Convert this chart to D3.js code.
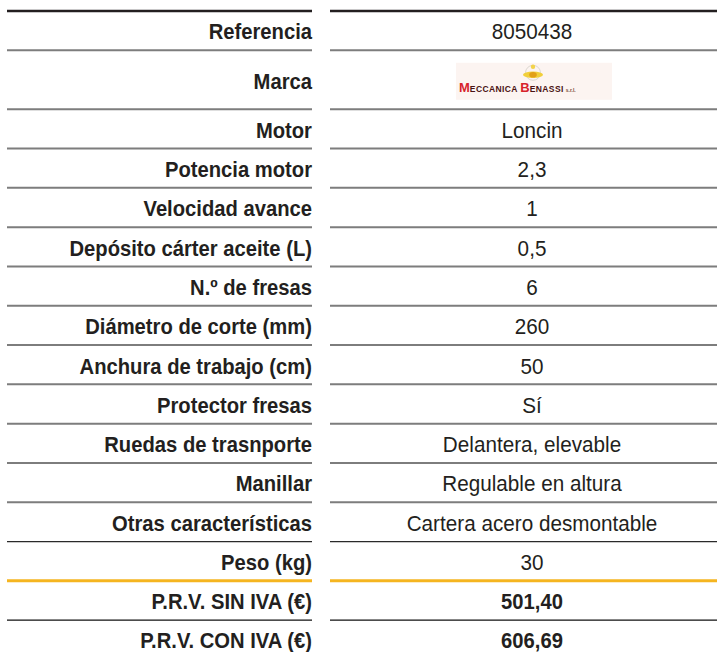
<!DOCTYPE html>
<html><head><meta charset="utf-8">
<script src="https://cdn.jsdelivr.net/npm/d3@7"></script>
<style>
html,body{margin:0;padding:0;background:#fff;}
svg{display:block;}
</style></head>
<body>
<svg id="chart" width="717" height="652"></svg>
<script>
const labels = ["Referencia","Marca","Motor","Potencia motor","Velocidad avance","Depósito cárter aceite (L)","N.º de fresas","Diámetro de corte (mm)","Anchura de trabajo (cm)","Protector fresas","Ruedas de trasnporte","Manillar","Otras características","Peso (kg)","P.R.V. SIN IVA (€)","P.R.V. CON IVA (€)"];
const values = ["8050438","[logo]","Loncin","2,3","1","0,5","6","260","50","Sí","Delantera, elevable","Regulable en altura","Cartera acero desmontable","30","501,40","606,69"];
const boldValues = ["P.R.V. SIN IVA (€)","P.R.V. CON IVA (€)"];
const logoRow = "Marca";

const W = 717, H = 652;
const svg = d3.select("#chart");
const FONT = "'Liberation Sans',Arial,sans-serif";

const units = labels.map(l => l === logoRow ? 1.5 : 1);
const cum = [0];
units.forEach(u => cum.push(cum[cum.length-1] + u));
const y = d3.scaleLinear().domain([0, cum[cum.length-1]]).range([11, 11 + 39.3*cum[cum.length-1]]);

const leftX0 = 7, leftX1 = 312, rightX0 = 330, rightX1 = 717;
const valueCx = 532;

function lineStyle(i){
  const lab = labels[i];
  if (i === 0) return {c:"#231f20", w:2.6};
  if (lab === "Peso (kg)") return {c:"#2a2a2a", w:1.3};
  if (lab === "P.R.V. SIN IVA (€)") return {c:"#f5b520", w:3};
  if (lab === "P.R.V. CON IVA (€)") return {c:"#111", w:1.3};
  return {c:"#7d7d7d", w:2};
}
const gl = svg.append("g");
d3.range(labels.length).forEach(i => {
  const s = lineStyle(i);
  const yy = y(cum[i]);
  [[leftX0,leftX1],[rightX0,rightX1]].forEach(([a,b]) => {
    gl.append("line").attr("x1",a).attr("x2",b).attr("y1",yy).attr("y2",yy)
      .attr("stroke",s.c).attr("stroke-width",s.w);
  });
});

const rowMid = i => (y(cum[i]) + y(cum[i+1]))/2;
const baseY = i => Math.min(rowMid(i) + 8.8, 647.5);

// labels (condensed look: taller font, narrowed horizontally)
svg.append("g").selectAll("text").data(labels).join("text")
  .attr("transform", (d,i) => `translate(${leftX1},${baseY(i)}) scale(0.94,1)`)
  .attr("text-anchor","end")
  .attr("font-family", FONT)
  .attr("font-weight","bold")
  .attr("font-size", 21.5)
  .attr("fill","#231f20")
  .text(d => d);

// values
svg.append("g").selectAll("text").data(values.map((v,i)=>({v, i, lab: labels[i]})).filter(d => d.lab !== logoRow)).join("text")
  .attr("transform", d => `translate(${valueCx},${baseY(d.i)}) scale(${boldValues.includes(d.lab) ? 0.94 : 0.92},1)`)
  .attr("text-anchor","middle")
  .attr("font-family", FONT)
  .attr("font-weight", d => boldValues.includes(d.lab) ? "bold" : "normal")
  .attr("font-size", d => boldValues.includes(d.lab) ? 21.5 : 22.5)
  .attr("fill","#231f20")
  .text(d => d.v);

// logo
const li = labels.indexOf(logoRow);
const cy = rowMid(li);
const logo = svg.append("g").attr("transform", `translate(${valueCx},${cy})`);
logo.append("rect").attr("x",-76).attr("y",-17).attr("width",156).attr("height",37).attr("fill","#fcf4f1");
logo.append("circle").attr("cx",1).attr("cy",-7).attr("r",7.5).attr("fill","none").attr("stroke","#d8d4cc").attr("stroke-width",0.9);
logo.append("ellipse").attr("cx",1).attr("cy",-5).attr("rx",10).attr("ry",3.2).attr("fill","#f1cf3a");
logo.append("ellipse").attr("cx",1).attr("cy",-5).attr("rx",3.8).attr("ry",2.8).attr("fill","#e2a018");
logo.append("circle").attr("cx",1).attr("cy",-13).attr("r",2.2).attr("fill","#f3d34a");
const lt = logo.append("text").attr("x",-73).attr("y",12).attr("font-family","'Liberation Sans',sans-serif").attr("font-weight","bold");
lt.append("tspan").attr("font-size",13).attr("fill","#d7232b").text("M");
lt.append("tspan").attr("font-size",8.5).attr("fill","#4a1212").attr("letter-spacing",0.4).text("ECCANICA");
lt.append("tspan").attr("font-size",8.5).text("  ");
lt.append("tspan").attr("font-size",13).attr("fill","#d7232b").text("B");
lt.append("tspan").attr("font-size",8.5).attr("fill","#4a1212").attr("letter-spacing",0.4).text("ENASSI");
lt.append("tspan").attr("font-size",5).attr("fill","#7a4a3a").attr("dx",2).text("s.r.l.");
</script>
</body></html>
